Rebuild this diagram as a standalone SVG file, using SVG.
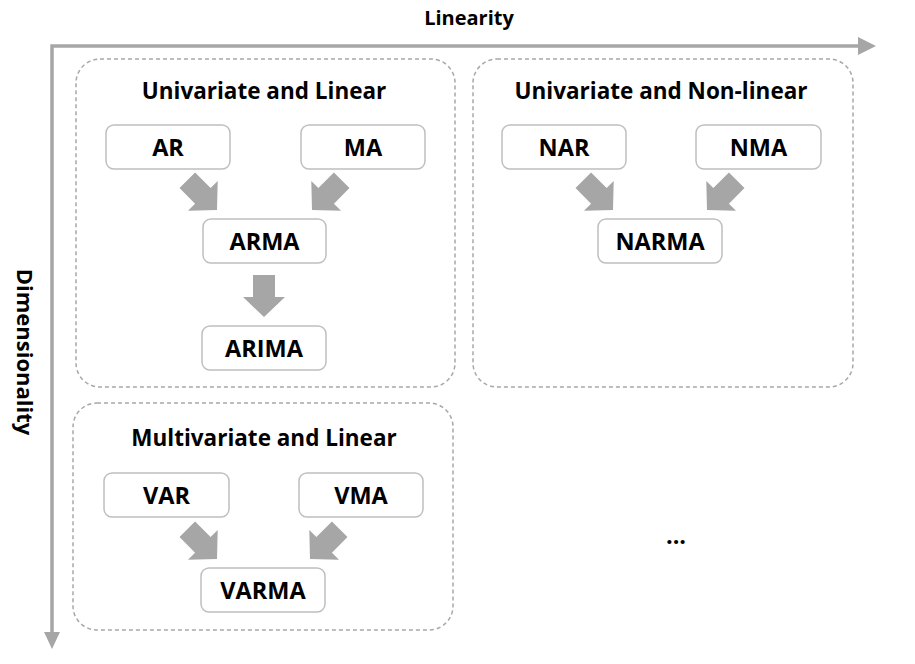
<svg xmlns="http://www.w3.org/2000/svg" width="915" height="664" viewBox="0 0 915 664">
<defs>
<style>
.t{font-family:"Open Sans","Noto Sans","Liberation Sans",sans-serif;font-weight:bold;fill:#000;text-anchor:middle}
.title{font-size:22.5px}
.lbl{font-size:23.5px}
.ax{font-size:20px}
.axv{font-size:22px}
.grp{fill:none;stroke:#A8A8A8;stroke-width:1.5;stroke-dasharray:4 3}
.node{fill:#fff;stroke:#BFBFBF;stroke-width:1.5}
.barrow{fill:#A6A6A6}
.axis{fill:none;stroke:#A6A6A6;stroke-width:3.5}
</style>
<polygon id="ba" points="-11,-42 11,-42 11,-20 21,-20 0,0 -21,-20 -11,-20"/>
</defs>
<rect width="915" height="664" fill="#fff"/>
<g id="axes">
<polyline class="axis" points="860,46 52,46 52,634"/>
<polygon fill="#A6A6A6" points="858,37 876,46 858,55"/>
<polygon fill="#A6A6A6" points="44,632 60,632 52,649"/>
<text class="t ax" x="469" y="25">Linearity</text>
<text class="t axv" transform="translate(17,352) rotate(90)" x="0" y="0">Dimensionality</text>
</g>
<g id="group-univariate-linear">
<rect class="grp" x="76" y="59" width="379" height="328" rx="24"/>
<text class="t title" x="264" y="99">Univariate and Linear</text>
</g>
<g id="group-univariate-nonlinear">
<rect class="grp" x="473" y="59" width="380" height="328" rx="24"/>
<text class="t title" x="661" y="99">Univariate and Non-linear</text>
</g>
<g id="group-multivariate-linear">
<rect class="grp" x="73" y="403" width="380" height="227" rx="24"/>
<text class="t title" x="264" y="446">Multivariate and Linear</text>
</g>
<g id="node-AR"><rect class="node" x="106" y="125" width="124" height="44" rx="8"/><text class="t lbl" x="168" y="156">AR</text></g>
<g id="node-MA"><rect class="node" x="301" y="125" width="124" height="44" rx="8"/><text class="t lbl" x="363" y="156">MA</text></g>
<g id="node-ARMA"><rect class="node" x="203" y="219" width="123" height="44" rx="8"/><text class="t lbl" x="264.5" y="250">ARMA</text></g>
<g id="node-ARIMA"><rect class="node" x="202" y="326" width="124" height="44" rx="8"/><text class="t lbl" x="264" y="357">ARIMA</text></g>
<g id="node-NAR"><rect class="node" x="502" y="125" width="124" height="44" rx="8"/><text class="t lbl" x="564" y="156">NAR</text></g>
<g id="node-NMA"><rect class="node" x="696" y="125" width="125" height="44" rx="8"/><text class="t lbl" x="758.5" y="156">NMA</text></g>
<g id="node-NARMA"><rect class="node" x="598" y="219" width="124" height="44" rx="8"/><text class="t lbl" x="660" y="250">NARMA</text></g>
<g id="node-VAR"><rect class="node" x="104" y="473" width="125" height="44" rx="8"/><text class="t lbl" x="166.5" y="504">VAR</text></g>
<g id="node-VMA"><rect class="node" x="299" y="473" width="124" height="44" rx="8"/><text class="t lbl" x="361" y="504">VMA</text></g>
<g id="node-VARMA"><rect class="node" x="201" y="568" width="124" height="44" rx="8"/><text class="t lbl" x="263" y="599">VARMA</text></g>
<g id="ellipsis"><text class="t lbl" x="676" y="544">...</text></g>
<g id="connectors" class="barrow">
<use href="#ba" transform="translate(217,210) rotate(-45)"/>
<use href="#ba" transform="translate(312,210) rotate(45)"/>
<use href="#ba" transform="translate(264,317)"/>
<use href="#ba" transform="translate(613,210) rotate(-45)"/>
<use href="#ba" transform="translate(707,210) rotate(45)"/>
<use href="#ba" transform="translate(217,559) rotate(-45)"/>
<use href="#ba" transform="translate(310,559) rotate(45)"/>
</g>
</svg>
